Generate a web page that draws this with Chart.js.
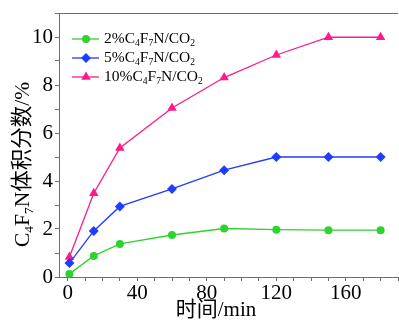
<!DOCTYPE html>
<html>
<head>
<meta charset="utf-8">
<script src="https://cdn.jsdelivr.net/npm/chart.js@4/dist/chart.umd.min.js"></script>
<style>
  html, body { margin: 0; padding: 0; background: #fff; }
  canvas { display: block; }
</style>
</head>
<body>
<canvas id="chart" width="399" height="322"></canvas>
<script>
    // 时间 (min)
    const times = [1, 15, 30, 60, 90, 120, 150, 180];
    const pct2 = [0.13, 0.88, 1.38, 1.75, 2.02, 1.97, 1.95, 1.95];
    const pct5 = [0.58, 1.92, 2.94, 3.67, 4.45, 5.0, 5.0, 5.0];
    const pct10 = [0.83, 3.49, 5.38, 7.04, 8.31, 9.25, 9.99, 9.99];
    const xLabels = [0, 40, 80, 120, 160];
    const yLabels = [0, 2, 4, 6, 8, 10];

    const SERIF = "'Liberation Serif', 'Times New Roman', 'Noto Sans CJK SC', serif";
    const GREEN = "#2ed42e", BLUE = "#1f3cff", PINK = "#ff1a8c";

    const legendItems = [
        { parts: [["2%C"], ["4", 1], ["F"], ["7", 1], ["N/CO"], ["2", 1]], color: GREEN, style: "circle", r: 4 },
        { parts: [["5%C"], ["4", 1], ["F"], ["7", 1], ["N/CO"], ["2", 1]], color: BLUE, style: "rectRot", r: 5 },
        { parts: [["10%C"], ["4", 1], ["F"], ["7", 1], ["N/CO"], ["2", 1]], color: PINK, style: "triangle", r: 5.5 }
    ];

    function series(label, values, color, style, r) {
        return {
            label: label,
            data: values.map((v, i) => ({ x: times[i], y: v })),
            borderColor: color,
            backgroundColor: color,
            borderWidth: 1.3,
            pointStyle: style,
            pointRadius: r,
            pointBorderWidth: 0,
            tension: 0
        };
    }

    // text with subscripts, drawn left to right from x
    function drawRich(ctx, parts, x, y, size) {
        parts.forEach(p => {
            const sub = p[1];
            const s = sub ? size * 0.62 : size;
            ctx.font = `${s}px ${SERIF}`;
            ctx.fillText(p[0], x, sub ? y + size * 0.28 : y);
            x += ctx.measureText(p[0]).width;
        });
        return x;
    }

    const decorations = {
        id: "decorations",
        afterDraw(chart) {
            const ctx = chart.ctx;
            const a = chart.chartArea;
            ctx.save();

            // top frame line (the right side is cut off in the original)
            ctx.strokeStyle = "#6e6e6e";
            ctx.lineWidth = 1;
            ctx.beginPath();
            ctx.moveTo(a.left, a.top + 0.5);
            ctx.lineTo(a.right, a.top + 0.5);
            ctx.stroke();

            // legend
            ctx.textBaseline = "middle";
            ctx.fillStyle = "#000";
            legendItems.forEach((it, i) => {
                const y = 39 + i * 19;
                ctx.strokeStyle = it.color;
                ctx.lineWidth = 1.3;
                ctx.beginPath();
                ctx.moveTo(72, y);
                ctx.lineTo(99, y);
                ctx.stroke();
                ctx.fillStyle = it.color;
                Chart.helpers.drawPoint(ctx, { pointStyle: it.style, radius: it.r, borderWidth: 0 }, 86, y);
                ctx.fillStyle = "#000";
                drawRich(ctx, it.parts, 104, y, 15.5);
            });

            // y axis title
            ctx.translate(23, 247);
            ctx.rotate(-Math.PI / 2);
            ctx.textBaseline = "middle";
            ctx.fillStyle = "#000";
            drawRich(ctx, [["C"], ["4", 1], ["F"], ["7", 1], ["N体积分数/%"]], 0, 0, 21.5);
            ctx.restore();

            // x axis title
            ctx.save();
            ctx.font = `21px ${SERIF}`;
            ctx.fillStyle = "#000";
            ctx.textAlign = "center";
            ctx.textBaseline = "middle";
            ctx.fillText("时间/min", 216, 310);
            ctx.restore();
        }
    };

    new Chart(document.getElementById("chart"), {
        type: "line",
        data: {
            datasets: [
                series("2%C4F7N/CO2", pct2, GREEN, "circle", 4),
                series("5%C4F7N/CO2", pct5, BLUE, "rectRot", 5),
                series("10%C4F7N/CO2", pct10, PINK, "triangle", 5.5)
            ]
        },
        options: {
            responsive: false,
            animation: false,
            devicePixelRatio: 1,
            layout: { autoPadding: false, padding: { top: 13, left: 0, right: 1, bottom: 0 } },
            plugins: { legend: { display: false }, tooltip: { enabled: false } },
            scales: {
                x: {
                    type: "linear",
                    min: -5,
                    max: 190,
                    afterFit: s => { s.height = 45; s.paddingLeft = 0; s.paddingRight = 0; },
                    border: { color: "#6e6e6e", width: 1 },
                    grid: { drawOnChartArea: false, tickLength: 4, color: "#6e6e6e" },
                    ticks: {
                        stepSize: 10,
                        includeBounds: false,
                        autoSkip: false,
                        maxRotation: 0,
                        padding: 0,
                        color: "#000",
                        font: { family: SERIF, size: 21 },
                        callback: v => xLabels.includes(v) ? String(v) : ""
                    }
                },
                y: {
                    min: 0,
                    max: 11,
                    afterFit: s => { s.width = 59; s.paddingTop = 0; s.paddingBottom = 0; },
                    border: { color: "#6e6e6e", width: 1 },
                    grid: { drawOnChartArea: false, tickLength: 4, color: "#6e6e6e" },
                    ticks: {
                        stepSize: 1,
                        autoSkip: false,
                        padding: 2,
                        color: "#000",
                        font: { family: SERIF, size: 21 },
                        callback: v => yLabels.includes(v) ? String(v) : ""
                    }
                }
            }
        },
        plugins: [decorations]
    });
</script>
</body>
</html>
